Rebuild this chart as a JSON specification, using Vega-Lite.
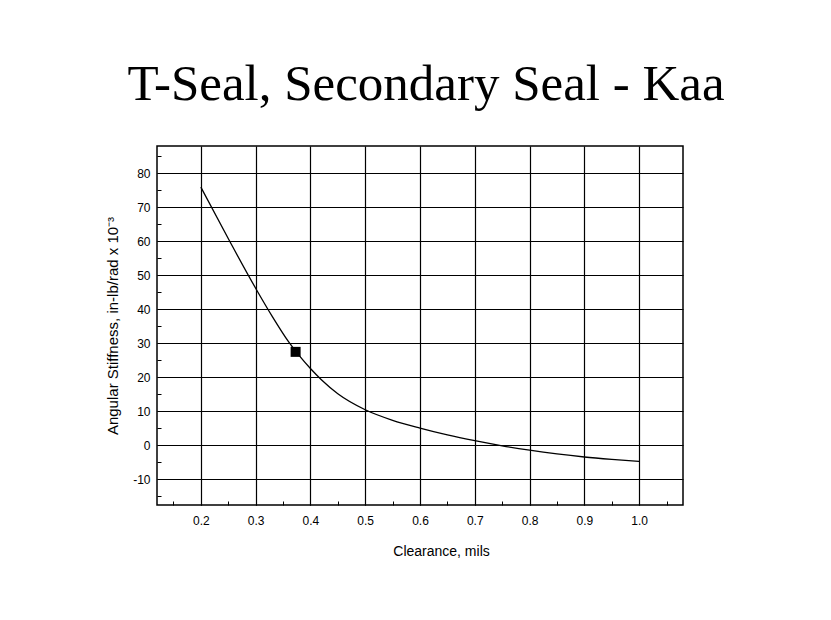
{
  "$schema": "https://vega.github.io/schema/vega-lite/v6.json",
  "width": 526,
  "height": 359,
  "autosize": "none",
  "padding": {"left": 157, "top": 146, "right": 148, "bottom": 115},
  "background": "white",
  "title": {
    "text": "T-Seal, Secondary Seal - Kaa",
    "font": "Liberation Serif",
    "fontSize": 51,
    "fontWeight": "normal",
    "color": "black",
    "anchor": "middle",
    "offset": 35,
    "dx": 6
  },
  "encoding": {
    "x": {
      "field": "clearance",
      "type": "quantitative",
      "scale": {"domain": [0.12, 1.08], "nice": false, "zero": false},
      "axis": {
        "title": "Clearance, mils",
        "titleX": 284,
        "values": [0.15, 0.2, 0.25, 0.3, 0.35, 0.4, 0.45, 0.5, 0.55, 0.6, 0.65, 0.7, 0.75, 0.8, 0.85, 0.9, 0.95, 1.0, 1.05],
        "labelExpr": "abs(datum.value*10 - round(datum.value*10)) < 0.001 ? format(datum.value, '.1f') : ''",
        "grid": true,
        "gridColor": "black",
        "gridWidth": 1.2,
        "gridOpacity": {"condition": {"test": "abs(datum.value*10 - round(datum.value*10)) < 0.001", "value": 1}, "value": 0},
        "domain": false,
        "ticks": true,
        "tickColor": "black",
        "tickSize": -4,
        "tickWidth": 1,
        "labelOverlap": false,
        "labelFlush": false,
        "labelBound": false,
        "labelFont": "Liberation Sans",
        "labelFontSize": 12,
        "labelColor": "black",
        "labelPadding": 14,
        "titleFont": "Liberation Sans",
        "titleFontSize": 14,
        "titleFontWeight": "normal",
        "titleColor": "black",
        "titlePadding": 18
      }
    },
    "y": {
      "field": "stiffness",
      "type": "quantitative",
      "scale": {"domain": [-17.5, 88], "nice": false, "zero": false},
      "axis": {
        "title": "Angular Stiffness, in-lb/rad x 10⁻³",
        "values": [-15, -10, -5, 0, 5, 10, 15, 20, 25, 30, 35, 40, 45, 50, 55, 60, 65, 70, 75, 80, 85],
        "labelExpr": "datum.value % 10 === 0 ? toString(datum.value) : ''",
        "grid": true,
        "gridColor": "black",
        "gridWidth": 1.2,
        "gridOpacity": {"condition": {"test": "datum.value % 10 === 0", "value": 1}, "value": 0},
        "domain": false,
        "ticks": true,
        "tickColor": "black",
        "tickSize": -4,
        "tickWidth": 1,
        "labelOverlap": false,
        "labelFlush": false,
        "labelBound": false,
        "labelFont": "Liberation Sans",
        "labelFontSize": 12,
        "labelColor": "black",
        "labelPadding": 11,
        "titleFont": "Liberation Sans",
        "titleFontSize": 15,
        "titleFontWeight": "normal",
        "titleColor": "black",
        "titlePadding": 12
      }
    }
  },
  "layer": [
    {
      "data": {
        "values": [
          {"clearance": 0.2, "stiffness": 75.9},
          {"clearance": 0.25, "stiffness": 60.8},
          {"clearance": 0.3, "stiffness": 46.2},
          {"clearance": 0.33, "stiffness": 38.0},
          {"clearance": 0.36, "stiffness": 30.5},
          {"clearance": 0.38, "stiffness": 26.3},
          {"clearance": 0.4, "stiffness": 22.6},
          {"clearance": 0.42, "stiffness": 19.3},
          {"clearance": 0.45, "stiffness": 15.2},
          {"clearance": 0.5, "stiffness": 10.5},
          {"clearance": 0.55, "stiffness": 7.4},
          {"clearance": 0.6, "stiffness": 5.1},
          {"clearance": 0.65, "stiffness": 3.1},
          {"clearance": 0.7, "stiffness": 1.4},
          {"clearance": 0.75, "stiffness": -0.1},
          {"clearance": 0.8, "stiffness": -1.4},
          {"clearance": 0.85, "stiffness": -2.5},
          {"clearance": 0.9, "stiffness": -3.4},
          {"clearance": 0.95, "stiffness": -4.1},
          {"clearance": 1.0, "stiffness": -4.7}
        ]
      },
      "mark": {"type": "line", "color": "black", "strokeWidth": 1.3, "interpolate": "monotone"}
    },
    {
      "data": {"values": [{"clearance": 0.373, "stiffness": 27.5}]},
      "mark": {"type": "square", "color": "black", "filled": true, "opacity": 1, "size": 100}
    }
  ],
  "config": {
    "view": {"stroke": "black", "strokeWidth": 1.5}
  }
}
